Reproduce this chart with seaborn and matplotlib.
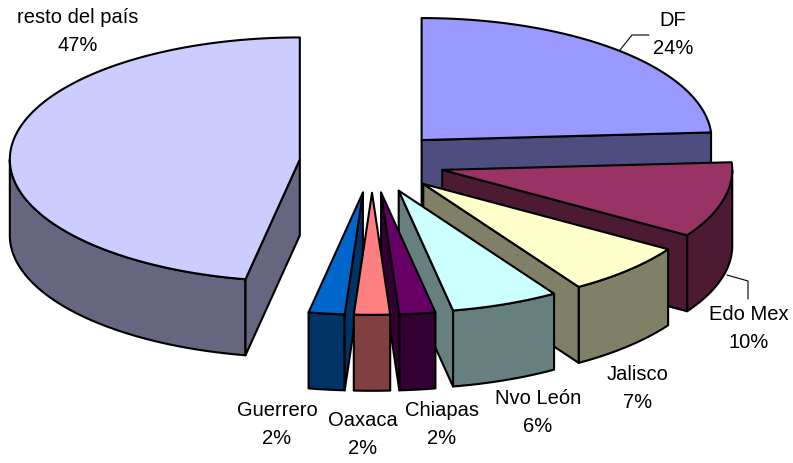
import numpy as np
import matplotlib
matplotlib.use("Agg")
import matplotlib.pyplot as plt
import seaborn as sns
from matplotlib.patches import Polygon
from matplotlib.colors import to_rgb

# ======================
# data

states = ['DF', 'Edo Mex', 'Jalisco', 'Nvo León', 'Chiapas', 'Oaxaca', 'Guerrero', 'resto del país']
shares = [24, 10, 7, 6, 2, 2, 2, 47]
top_colors = ['#9999FF', '#993366', '#FFFFCC', '#CCFFFF', '#660066', '#FF8080', '#0066CC', '#CCCCFF']

# ======================
# layout (pixels of the 793x463 picture)

W, H = 793, 463
CX, CY, RX = 372, 162.3, 290   # pie centre and horizontal radius
TILT = 122 / 290               # vertical squash of the top face
DEPTH = 76 / 290               # thickness of the pie
EXPLODE = 0.25                 # slice offset, in radii

label_pos = {'DF': (673, 34), 'Edo Mex': (749, 329), 'Jalisco': (638, 389),
             'Nvo León': (538, 412), 'Chiapas': (442, 425), 'Oaxaca': (363, 435),
             'Guerrero': (277, 425), 'resto del país': (78, 31)}
leaders = {'DF': [(620, 50), (632, 35), (649, 35)],
           'Edo Mex': [(727, 275), (748, 281), (748, 299)]}

sns.set_theme(style="white")
plt.rcParams['font.family'] = ['Liberation Sans', 'DejaVu Sans']

fig = plt.figure(figsize=(W / 100, H / 100), dpi=100)
ax = fig.add_axes([0, 0, 1, 1])
ax.set_xlim(-CX / RX, (W - CX) / RX)
ax.set_ylim((CY - H) / RX, CY / RX)
ax.axis('off')


def to_data(x, y):
    return (x - CX) / RX, (CY - y) / RX


def darker(c, f=0.5):
    return tuple(v * f for v in to_rgb(c))


edge = dict(ec='black', lw=1.5, joinstyle='round')

bounds = np.cumsum([0] + shares) / sum(shares) * 2 * np.pi
# back slices first
order = sorted(range(len(shares)), key=lambda i: -np.cos((bounds[i] + bounds[i + 1]) / 2))

for i in order:
    t0, t1 = bounds[i], bounds[i + 1]
    mid = (t0 + t1) / 2
    ox, oy = EXPLODE * np.sin(mid), EXPLODE * TILT * np.cos(mid)
    side = darker(top_colors[i])

    def pt(r, t, z=0.0):
        return (ox + r * np.sin(t), oy + TILT * r * np.cos(t) - z)

    # outer wall, front half only
    lo, hi = max(t0, np.pi / 2), min(t1, 1.5 * np.pi)
    if hi > lo:
        ts = np.linspace(lo, hi, 80)
        poly = [pt(1, t) for t in ts] + [pt(1, t, DEPTH) for t in ts[::-1]]
        ax.add_patch(Polygon(poly, fc=side, **edge))
    # radial walls facing the viewer
    for t, show in ((t0, np.sin(t0) < -1e-9), (t1, np.sin(t1) > 1e-9)):
        if show:
            wall = [pt(0, t), pt(1, t), pt(1, t, DEPTH), pt(0, t, DEPTH)]
            ax.add_patch(Polygon(wall, fc=side, **edge))
    # top face
    ts = np.linspace(t0, t1, 120)
    face = [pt(0, 0)] + [pt(1, t) for t in ts]
    ax.add_patch(Polygon(face, fc=top_colors[i], **edge))

for name, val in zip(states, shares):
    x, y = to_data(*label_pos[name])
    ax.text(x, y, f"{name}\n{val}%", ha='center', va='center',
            fontsize=14.5, linespacing=1.6, color='black')

for name, pts in leaders.items():
    xs, ys = zip(*[to_data(*p) for p in pts])
    ax.plot(xs, ys, color='black', lw=0.8)

plt.savefig('out.png', dpi=100)
plt.close()
